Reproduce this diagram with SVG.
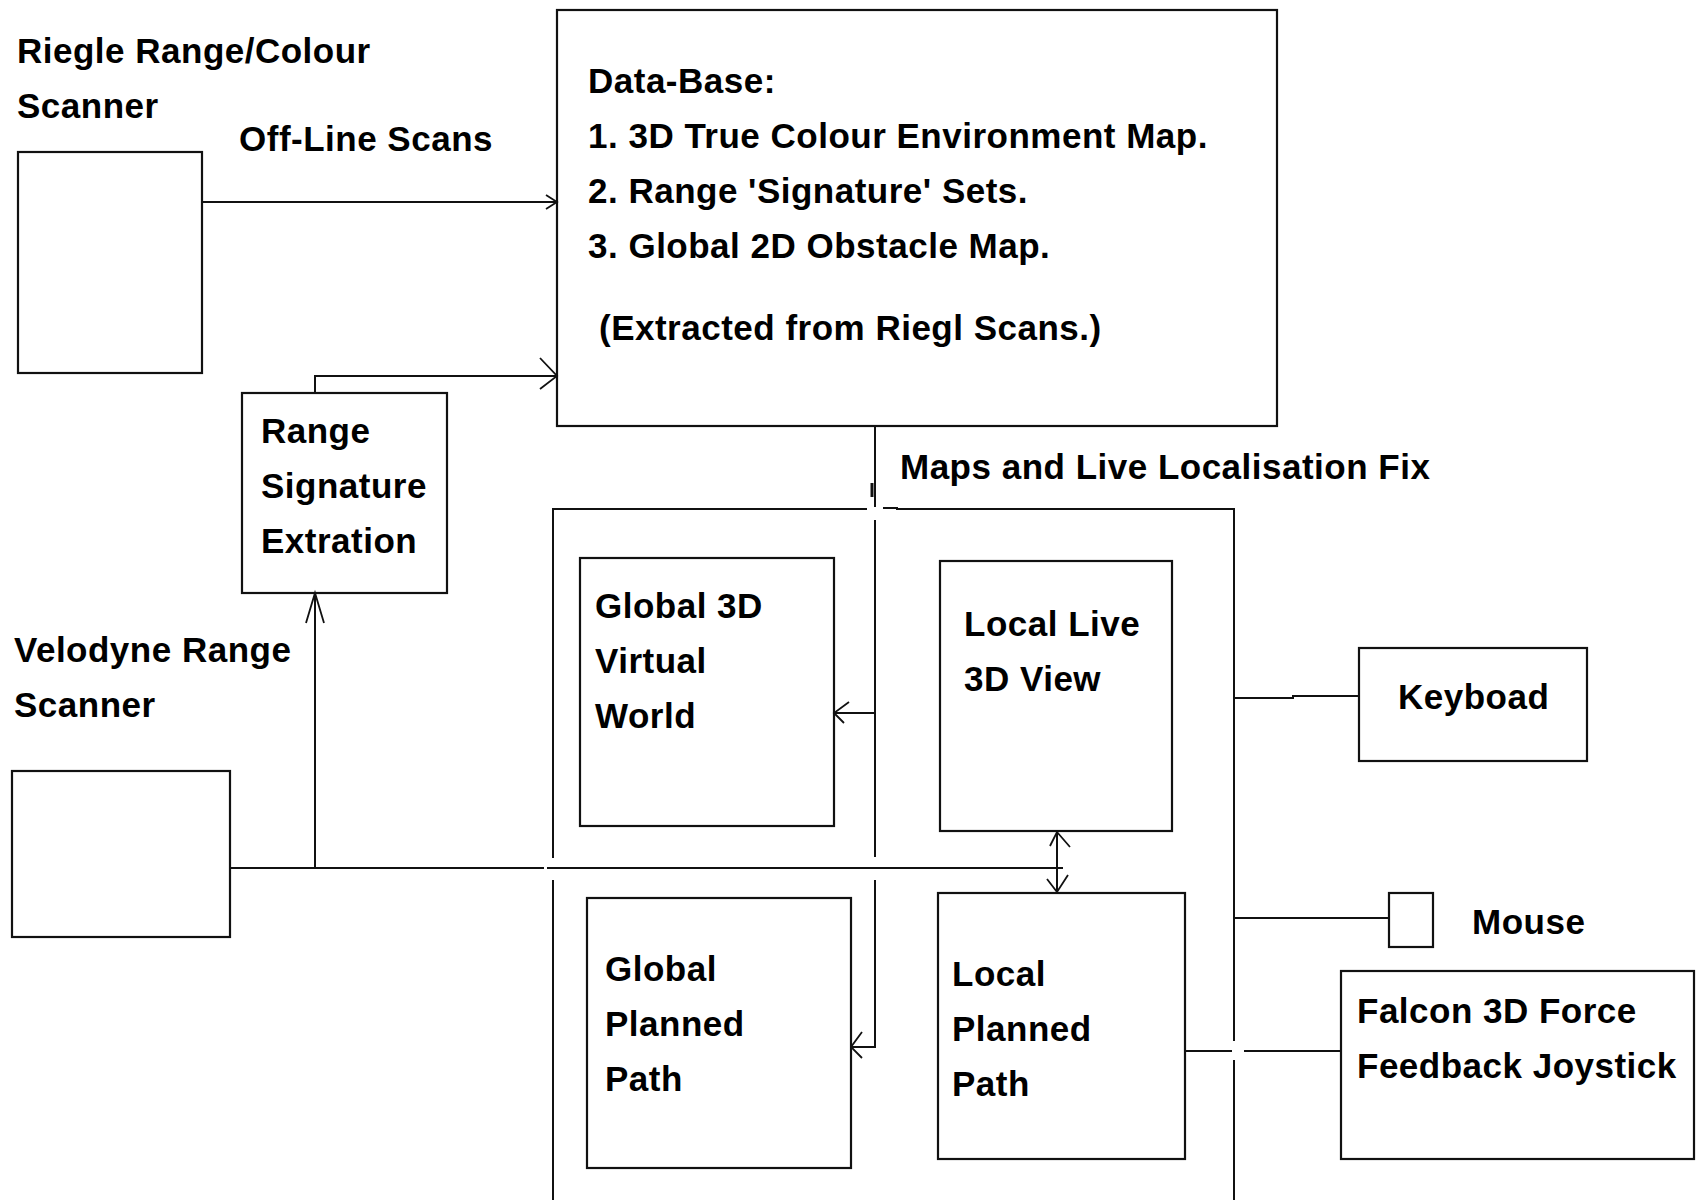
<svg xmlns="http://www.w3.org/2000/svg" width="1698" height="1200" viewBox="0 0 1698 1200">
<style>
.box{fill:none;stroke:#111;stroke-width:2.2}
.ln{fill:none;stroke:#111;stroke-width:2}
.ah{fill:none;stroke:#111;stroke-width:1.8}
text{font-family:"Liberation Sans",Arial,sans-serif;font-weight:bold;font-size:35px;letter-spacing:0.5px;fill:#000}
</style>
<rect width="1698" height="1200" fill="#fff"/>
<g id="riegle">
<rect class="box" x="18" y="152" width="184" height="221"/>
<text x="17" y="63">Riegle Range/Colour</text>
<text x="17" y="118">Scanner</text>
</g>
<g id="database">
<rect class="box" x="557" y="10" width="720" height="416"/>
<text x="588" y="93">Data-Base:</text>
<text x="588" y="148">1. 3D True Colour Environment Map.</text>
<text x="588" y="203">2. Range 'Signature' Sets.</text>
<text x="588" y="258">3. Global 2D Obstacle Map.</text>
<text x="599" y="340">(Extracted from Riegl Scans.)</text>
</g>
<g id="range-signature">
<rect class="box" x="242" y="393" width="205" height="200"/>
<text x="261" y="443">Range</text>
<text x="261" y="498">Signature</text>
<text x="261" y="553">Extration</text>
</g>
<g id="velodyne">
<rect class="box" x="12" y="771" width="218" height="166"/>
<text x="14" y="662">Velodyne Range</text>
<text x="14" y="717">Scanner</text>
</g>
<g id="display-frame">
<path class="ln" d="M553,1200 V880 M553,858 V509 H867 M883,508 H897 V509 H1235"/>
</g>
<g id="global-3d">
<rect class="box" x="580" y="558" width="254" height="268"/>
<text x="595" y="618">Global 3D</text>
<text x="595" y="673">Virtual</text>
<text x="595" y="728">World</text>
</g>
<g id="local-live">
<rect class="box" x="940" y="561" width="232" height="270"/>
<text x="964" y="636">Local Live</text>
<text x="964" y="691">3D View</text>
</g>
<g id="global-planned">
<rect class="box" x="587" y="898" width="264" height="270"/>
<text x="605" y="981">Global</text>
<text x="605" y="1036">Planned</text>
<text x="605" y="1091">Path</text>
</g>
<g id="local-planned">
<rect class="box" x="938" y="893" width="247" height="266"/>
<text x="952" y="986">Local</text>
<text x="952" y="1041">Planned</text>
<text x="952" y="1096">Path</text>
</g>
<g id="keyboard">
<rect class="box" x="1359" y="648" width="228" height="113"/>
<text x="1398" y="709">Keyboad</text>
</g>
<g id="mouse">
<rect class="box" x="1389" y="893" width="44" height="54"/>
<text x="1472" y="934">Mouse</text>
</g>
<g id="falcon">
<rect class="box" x="1341" y="971" width="353" height="188"/>
<text x="1357" y="1023">Falcon 3D Force</text>
<text x="1357" y="1078">Feedback Joystick</text>
</g>
<g id="labels">
<text x="239" y="151">Off-Line Scans</text>
<text x="900" y="479">Maps and Live Localisation Fix</text>
</g>
<g id="connectors">
<path class="ln" d="M202,202 H557"/>
<path class="ah" d="M546,195 L557,202 L546,209"/>
<path class="ln" d="M315,393 V376 H557"/>
<path class="ah" d="M540,358 L557,376 L540,389"/>
<path class="ln" d="M230,868 H544 M547,868 H1063"/>
<path class="ln" d="M315,868 V593"/>
<path class="ah" d="M306,623 L315,593 L324,623"/>
<path class="ln" d="M1057,832 V892"/>
<path class="ah" d="M1050,846 L1057,832 L1070,847 M1047,879 L1057,892 L1068,875"/>
<path class="ln" d="M875,426 V507 M875,520 V857 M875,880 V1047 H851 M875,713 H834"/>
<path class="ln" d="M872,483 V497" style="stroke-width:3"/>
<path class="ah" d="M849,702 L834,713 L844,723 M862,1032 L851,1047 L862,1058"/>
<path class="ln" d="M1234,509 V1041 M1234,1060 V1200"/>
<path class="ln" d="M1234,698 H1293 V696 H1359"/>
<path class="ln" d="M1234,918 H1389"/>
<path class="ln" d="M1185,1051 H1232 M1244,1051 H1341"/>
</g>
</svg>
